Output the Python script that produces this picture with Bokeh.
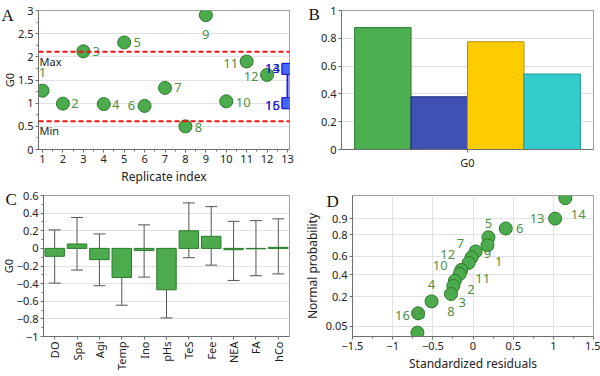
import math
from statistics import NormalDist
from bokeh.plotting import figure
from bokeh.layouts import column, row
from bokeh.models import (ColumnDataSource, Range1d, FactorRange, FixedTicker, Span, Label,
                          Whisker, TeeHead, CustomJSTickFormatter, Title)
from bokeh.transform import dodge
from bokeh.core.properties import value
from bokeh.embed import file_html
from bokeh.resources import INLINE

# ---------------- data ----------------
# Panel A: replicate G0 values
replicates = [1, 2, 3, 4, 5, 6, 7, 8, 9, 10, 11, 12]
replicate_g0 = [1.27, 0.99, 2.12, 0.98, 2.31, 0.94, 1.33, 0.50, 2.90, 1.04, 1.90, 1.61]
replicate_labels = ["1", "2", "3", "4", "5", "6", "7", "8", "9", "10", "11", "12"]
group_replicate = [13, 13, 13, 13]
group_g0 = [1.74, 1.74, 1.00, 1.00]
group_labels = ["13", "14", "15", "16"]
limit_max = 2.11
limit_min = 0.61
a_xticks = [1, 2, 3, 4, 5, 6, 7, 8, 9, 10, 11, 12, 13]
a_yticks = [0, 0.5, 1, 1.5, 2, 2.5, 3]

# Panel B: four bars for G0
b_category = "G0"
b_values = [0.877, 0.379, 0.775, 0.543]
b_yticks = [0, 0.2, 0.4, 0.6, 0.8, 1]

# Panel C: effects with error bars
c_factors = ["DO", "Spa", "Agi", "Temp", "Ino", "pHs", "TeS", "Fee", "NEA", "FA", "hCo"]
c_effect = [-0.09, 0.05, -0.128, -0.33, -0.025, -0.47, 0.20, 0.137, -0.015, -0.005, 0.012]
c_upper = [0.21, 0.35, 0.164, -0.034, 0.267, -0.163, 0.516, 0.474, 0.307, 0.315, 0.335]
c_lower = [-0.394, -0.246, -0.424, -0.645, -0.326, -0.789, -0.106, -0.19, -0.364, -0.31, -0.29]
c_yticks = [-1, -0.8, -0.6, -0.4, -0.2, 0, 0.2, 0.4, 0.6]

# Panel D: normal probability plot
d_residuals = [1.149, 1.022, 0.408, 0.192, 0.180, 0.033, -0.018, -0.054,
               -0.146, -0.166, -0.226, -0.245, -0.274, -0.516, -0.684, -0.692]
d_probability = [0.967, 0.900, 0.844, 0.780, 0.710, 0.650, 0.590, 0.530,
                 0.453, 0.410, 0.340, 0.290, 0.220, 0.165, 0.097, 0.034]
d_labels = ["14", "13", "6", "5", "9", "1", "7", "12", "10", "11", "2", "3", "8", "4", "15", "16"]
d_xticks = [-1.5, -1, -0.5, 0, 0.5, 1, 1.5]
d_prob_ticks = [0.05, 0.2, 0.4, 0.6, 0.8, 0.9]

panel_letters = ["A", "B", "C", "D"]

# ---------------- style ----------------
FONT = "Noto Sans"
SERIF = "Liberation Serif"
GREEN_FILL = "#4cab4c"
GREEN_LINE = "#2b7a2b"
LABEL_GREEN = "#4f8f45"
GRID = "#e2e2e2"
AXIS = "#6e6e6e"


def style(p):
    p.outline_line_color = "#a0a0a0"
    p.background_fill_color = "white"
    p.border_fill_color = "white"
    for ax in p.axis:
        ax.major_label_text_font = FONT
        ax.major_label_text_font_size = "11px"
        ax.major_label_text_color = "#222222"
        ax.axis_line_color = AXIS
        ax.major_tick_line_color = AXIS
        ax.minor_tick_line_color = AXIS
        ax.major_tick_out = 3
        ax.major_tick_in = 0
        ax.minor_tick_out = 2
        ax.minor_tick_in = 0
        ax.major_label_standoff = 2
        ax.axis_label_text_font = FONT
        ax.axis_label_text_font_size = "12px"
        ax.axis_label_text_font_style = "normal"
        ax.axis_label_text_color = "#222222"
        ax.axis_label_standoff = 2
    for g in p.grid:
        g.grid_line_color = GRID


def halves(ticks):
    return [(a + b) / 2 for a, b in zip(ticks[:-1], ticks[1:])]


def panel_letter(p, text, offset, standoff):
    p.title = Title(text=text, align="left", vertical_align="bottom", offset=offset,
                    standoff=standoff, text_font=SERIF, text_font_size="17px",
                    text_font_style="normal", text_color="#111111")


def side_ylabel(p, text, standoff):
    p.add_layout(Title(text=text, align="center", vertical_align="bottom", standoff=standoff,
                       text_font=FONT, text_font_size="11px", text_font_style="normal",
                       text_color="#222222"), "left")


# ---------------- Panel A ----------------
pA = figure(width=300, height=188, x_range=Range1d(0.804, 13.098), y_range=Range1d(0, 3),
            output_backend="svg", toolbar_location=None,
            min_border_left=38, min_border_right=11, min_border_top=10, min_border_bottom=38)
pA.xaxis.ticker = FixedTicker(ticks=a_xticks, minor_ticks=halves(a_xticks))
pA.yaxis.ticker = FixedTicker(ticks=a_yticks, minor_ticks=halves(a_yticks))
pA.xaxis.axis_label = "Replicate index"
style(pA)
pA.xgrid.visible = False
panel_letter(pA, panel_letters[0], -37, -29)
side_ylabel(pA, "G0", -4)

for lim, name in [(limit_max, "Max"), (limit_min, "Min")]:
    pA.add_layout(Span(location=lim, dimension="width", line_color="#ee1111",
                       line_dash="5 3", line_width=2))
    pA.add_layout(Label(x=pA.x_range.start, y=lim, text=name, text_font=FONT, text_font_size="11px",
                        text_baseline="top", text_align="left", y_offset=-2, x_offset=1,
                        text_color="#222222"))

a_dx = [0, 12, 13, 12, 13, -13, 13, 13, 0, 17, -16, -16]
a_dy = [-18, 0, 0, 0, 0, 0, 0, 1, 19, 1, 2, 2]
srcA = ColumnDataSource(dict(x=replicates, y=replicate_g0, t=replicate_labels, dx=a_dx, dy=a_dy))
pA.scatter("x", "y", source=srcA, size=13, fill_color=GREEN_FILL, line_color=GREEN_LINE, line_width=1)
pA.text("x", "y", text="t", source=srcA, x_offset="dx", y_offset="dy",
        text_font=value(FONT), text_font_size="13px", text_color=LABEL_GREEN,
        text_align="center", text_baseline="middle")

srcG = ColumnDataSource(dict(x=group_replicate, y=group_g0, t=group_labels,
                             dx=[-15, -15, -15, -15], dy=[0, 0, 2, 2]))
pA.line("x", "y", source=srcG, line_color="#1f1fdd", line_width=2)
pA.scatter("x", "y", source=srcG, marker="square", size=11, fill_color="#4466ff",
           line_color="#1a1acc", line_width=1)
pA.text("x", "y", text="t", source=srcG, x_offset="dx", y_offset="dy",
        text_font=value(FONT), text_font_size="13px", text_color="#2222cc",
        text_align="center", text_baseline="middle")

# ---------------- Panel B ----------------
pB = figure(width=300, height=188, x_range=FactorRange(factors=[b_category]), y_range=Range1d(0, 1),
            output_backend="svg", toolbar_location=None,
            min_border_left=41, min_border_right=7, min_border_top=8, min_border_bottom=39)
pB.yaxis.ticker = FixedTicker(ticks=b_yticks)
style(pB)
pB.xgrid.visible = False
panel_letter(pB, panel_letters[1], -33, -27)
b_fill = ["#4caf50", "#3f51b5", "#ffcc00", "#33cccc"]
b_line = ["#2e7d32", "#1a237e", "#b38f00", "#1f9999"]
b_offsets = [-0.336, -0.112, 0.112, 0.336]
for i in range(len(b_values)):
    s = ColumnDataSource(dict(x=[b_category], top=[b_values[i]]))
    pB.vbar(x=dodge("x", b_offsets[i], range=pB.x_range), top="top", bottom=0, width=0.224,
            source=s, fill_color=b_fill[i], line_color=b_line[i], line_width=1)

# ---------------- Panel C ----------------
pC = figure(width=300, height=188, x_range=FactorRange(factors=c_factors), y_range=Range1d(-1, 0.6),
            output_backend="svg", toolbar_location=None,
            min_border_left=38, min_border_right=11, min_border_top=7, min_border_bottom=40)
pC.yaxis.ticker = FixedTicker(ticks=c_yticks, minor_ticks=halves(c_yticks))
style(pC)
pC.xgrid.visible = False
pC.xaxis.major_label_orientation = math.pi / 2
panel_letter(pC, panel_letters[2], -38, -27)
side_ylabel(pC, "G0", -4)
srcC = ColumnDataSource(dict(x=c_factors, top=c_effect, hi=c_upper, lo=c_lower))
pC.vbar(x="x", top="top", bottom=0, width=0.87, source=srcC,
        fill_color=GREEN_FILL, line_color=GREEN_LINE, line_width=1)
pC.add_layout(Whisker(source=srcC, base="x", upper="hi", lower="lo", line_color="#555555",
                      line_width=1,
                      upper_head=TeeHead(size=12, line_color="#555555", line_width=1),
                      lower_head=TeeHead(size=12, line_color="#555555", line_width=1)))

# ---------------- Panel D ----------------
nd = NormalDist()
d_z = [nd.inv_cdf(pv) for pv in d_probability]
tick_z = [nd.inv_cdf(pv) for pv in d_prob_ticks]
pD = figure(width=300, height=188, x_range=Range1d(-1.5, 1.5), y_range=Range1d(-1.93, 1.91),
            output_backend="svg", toolbar_location=None,
            min_border_left=42, min_border_right=7, min_border_top=7, min_border_bottom=40)
pD.xaxis.ticker = FixedTicker(ticks=d_xticks, minor_ticks=halves(d_xticks))
pD.yaxis.ticker = FixedTicker(ticks=tick_z)
pD.yaxis.formatter = CustomJSTickFormatter(args=dict(labels=[str(v) for v in d_prob_ticks]),
                                           code="return labels[index];")
pD.xaxis.axis_label = "Standardized residuals"
pD.yaxis.axis_label = "Normal probability"
style(pD)
panel_letter(pD, panel_letters[3], -26, -31)
d_dx = [13, -18, 14, 0, 0, 23, -11, -21, -21, 23, 16, 9, 0, 0, 0, -15]
d_dy = [16, 0, 0, -14, 8, 10, -14, -8, -4, 5, 9, 17, 18, -17, 1, -17]
srcD = ColumnDataSource(dict(x=d_residuals, y=d_z, t=d_labels, dx=d_dx, dy=d_dy))
pD.scatter("x", "y", source=srcD, size=13, fill_color=GREEN_FILL, line_color=GREEN_LINE, line_width=1)
pD.text("x", "y", text="t", source=srcD, x_offset="dx", y_offset="dy",
        text_font=value(FONT), text_font_size="13px", text_color=LABEL_GREEN,
        text_align="center", text_baseline="middle")

layout = column(row(pA, pB), row(pC, pD))
open("out.html", "w").write(file_html(layout, INLINE))
